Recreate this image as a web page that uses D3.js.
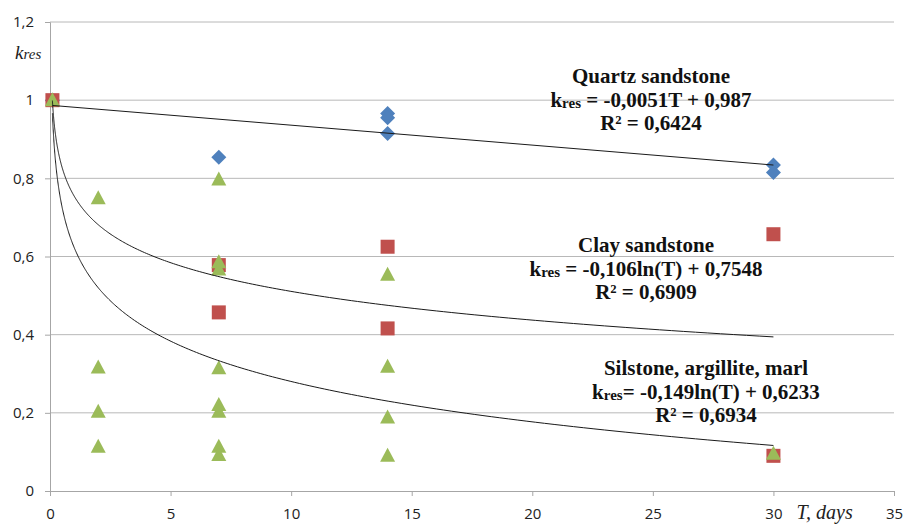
<!DOCTYPE html>
<html>
<head>
<meta charset="utf-8">
<script src="https://cdn.jsdelivr.net/npm/d3@7"></script>
<style>
  body { margin: 0; background: #fff; }
</style>
</head>
<body>
<svg id="chart"></svg>
<script>
// Measured points (T in days, kres)
const quartzT = [0.1, 7, 14, 14, 14, 30, 30];
const quartzK = [1.0, 0.854, 0.966, 0.955, 0.915, 0.834, 0.815];

const clayT = [0.1, 7, 7, 14, 14, 30, 30];
const clayK = [1.0, 0.578, 0.457, 0.625, 0.416, 0.657, 0.09];

const siltT = [0.1, 2, 2, 2, 2, 7, 7, 7, 7, 7, 7, 7, 7, 14, 14, 14, 14, 30];
const siltK = [1.0, 0.749, 0.316, 0.203, 0.113, 0.797, 0.585, 0.567, 0.314, 0.22, 0.203, 0.113, 0.092, 0.553, 0.318, 0.188, 0.09, 0.095];

// Trend line coefficients as printed on the chart
const quartzFit = [-0.0051, 0.987];   // a*T + b
const clayFit = [-0.106, 0.7548];     // a*ln(T) + b
const siltFit = [-0.149, 0.6233];     // a*ln(T) + b

const xTicks = [0, 5, 10, 15, 20, 25, 30, 35];
const yTicks = [0, 0.2, 0.4, 0.6, 0.8, 1, 1.2];

const W = 903, H = 524;
const margin = { top: 22, right: 9, bottom: 33, left: 50 };
const width = W - margin.left - margin.right;
const height = H - margin.top - margin.bottom;

const svg = d3.select("#chart")
    .attr("width", W)
    .attr("height", H)
  .append("g")
    .attr("transform", `translate(${margin.left},${margin.top})`);

const x = d3.scaleLinear().domain([0, 35]).range([0, width]);
const y = d3.scaleLinear().domain([0, 1.2]).range([height, 0]);
const fmt = d => String(d).replace(".", ",");

// gridlines
svg.append("g")
    .selectAll("line")
    .data(yTicks.filter(d => d > 0))
  .enter().append("line")
    .attr("x1", 0).attr("x2", width)
    .attr("y1", d => y(d)).attr("y2", d => y(d))
    .attr("stroke", "#b8b8b8")
    .attr("stroke-width", 1);

// y axis
const yAxis = svg.append("g")
    .call(d3.axisLeft(y).tickValues(yTicks).tickFormat(fmt).tickSize(5).tickPadding(11));
yAxis.select(".domain").attr("stroke", "#a6a6a6");
yAxis.selectAll(".tick line").attr("stroke", "#a6a6a6");
yAxis.selectAll(".tick text")
    .style("font-family", "'Open Sans', sans-serif")
    .style("font-size", "15px")
    .attr("fill", "#222");

// x axis
const xAxis = svg.append("g")
    .attr("transform", `translate(0,${height})`)
    .call(d3.axisBottom(x).tickValues(xTicks).tickFormat(fmt).tickSize(5).tickPadding(12));
xAxis.select(".domain").attr("stroke", "#a6a6a6");
xAxis.selectAll(".tick line").attr("stroke", "#a6a6a6");
xAxis.selectAll(".tick text")
    .style("font-family", "'Open Sans', sans-serif")
    .style("font-size", "15px")
    .attr("fill", "#222");

// axis titles
const kLabel = svg.append("text")
    .attr("x", -35).attr("y", 37)
    .style("font-family", "'Liberation Serif', serif")
    .style("font-style", "italic")
    .attr("fill", "#222");
kLabel.append("tspan").style("font-size", "19px").text("k");
kLabel.append("tspan").style("font-size", "15px").text("res");

svg.append("text")
    .attr("x", x(30) + 23).attr("y", height + 28)
    .style("font-family", "'Liberation Serif', serif")
    .style("font-style", "italic")
    .style("font-size", "20px")
    .attr("fill", "#222")
    .text("T, days");

// markers
const pts = (ts, ks) => ts.map((t, i) => ({ t: t, k: ks[i] }));
const m = 7.5;

svg.append("g").selectAll("path")
    .data(pts(quartzT, quartzK))
  .enter().append("path")
    .attr("d", `M0,${-m}L${m},0L0,${m}L${-m},0Z`)
    .attr("transform", d => `translate(${x(d.t)},${y(d.k)})`)
    .attr("fill", "#4f81bd");

svg.append("g").selectAll("rect")
    .data(pts(clayT, clayK))
  .enter().append("rect")
    .attr("x", d => x(d.t) - 7).attr("y", d => y(d.k) - 7)
    .attr("width", 14).attr("height", 14)
    .attr("fill", "#c0504d");

svg.append("g").selectAll("path")
    .data(pts(siltT, siltK))
  .enter().append("path")
    .attr("d", `M0,${-8}L${m},6L${-m},6Z`)
    .attr("transform", d => `translate(${x(d.t)},${y(d.k)})`)
    .attr("fill", "#9bbb59");

// trend lines
const line = d3.line().x(d => x(d[0])).y(d => y(d[1]));
const tSpan = d3.range(0, 301).map(i => 0.1 * Math.pow(300, i / 300));

svg.append("path")
    .attr("d", line([0.1, 30].map(t => [t, quartzFit[0] * t + quartzFit[1]])))
    .attr("fill", "none").attr("stroke", "#1a1a1a").attr("stroke-width", 1);

[clayFit, siltFit].forEach(f => {
  svg.append("path")
      .attr("d", line(tSpan.map(t => [t, f[0] * Math.log(t) + f[1]])))
      .attr("fill", "none").attr("stroke", "#1a1a1a").attr("stroke-width", 1);
});

// annotations
function note(cx, baseline, lines) {
  const g = svg.append("g")
      .style("font-family", "'Liberation Serif', serif")
      .style("font-weight", "bold")
      .style("font-size", "21px")
      .attr("fill", "#111")
      .attr("text-anchor", "middle");
  lines.forEach((l, i) => {
    const t = g.append("text").attr("x", cx).attr("y", baseline + i * 23.5);
    if (Array.isArray(l)) {
      t.append("tspan").text("k");
      t.append("tspan").style("font-size", "15px").attr("dy", 1).text(l[0]);
      t.append("tspan").attr("dy", -1).text(l[1]);
    } else {
      t.text(l);
    }
  });
}

note(651 - margin.left, 83 - margin.top, ["Quartz sandstone", ["res", " = -0,0051T + 0,987"], "R² = 0,6424"]);
note(646 - margin.left, 252 - margin.top, ["Clay sandstone", ["res", " = -0,106ln(T) + 0,7548"], "R² = 0,6909"]);
note(706 - margin.left, 375 - margin.top, ["Silstone, argillite, marl", ["res", "= -0,149ln(T) + 0,6233"], "R² = 0,6934"]);
</script>
</body>
</html>
